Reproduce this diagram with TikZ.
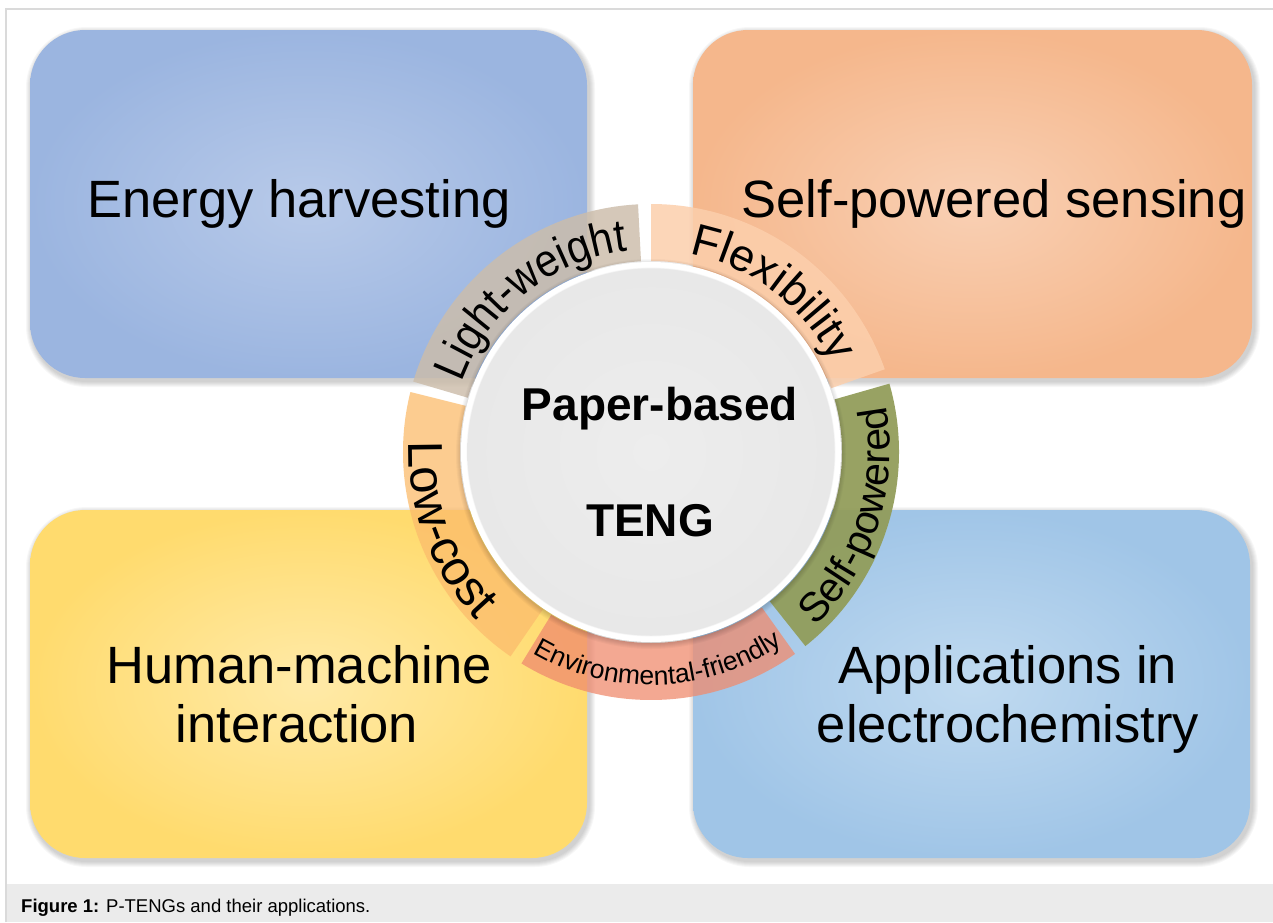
\documentclass[tikz,border=0pt]{standalone}
\usepackage{fontspec}
\setmainfont{Liberation Sans}
\newfontfamily\arcnarrow[FakeStretch=0.9]{Liberation Sans}
\usetikzlibrary{decorations.text}

\definecolor{framegray}{RGB}{218,218,218}
\definecolor{capgray}{RGB}{235,235,235}
\definecolor{ehIn}{RGB}{184,202,233}
\definecolor{ehOut}{RGB}{155,181,224}
\definecolor{spIn}{RGB}{249,208,180}
\definecolor{spOut}{RGB}{245,183,140}
\definecolor{hmIn}{RGB}{255,234,168}
\definecolor{hmOut}{RGB}{255,219,110}
\definecolor{apIn}{RGB}{192,218,240}
\definecolor{apOut}{RGB}{160,197,231}
\definecolor{cLW}{RGB}{204,189,170}
\definecolor{cFX}{RGB}{252,207,172}
\definecolor{cLC}{RGB}{252,188,108}
\definecolor{cEF}{RGB}{240,139,110}
\definecolor{cSP}{RGB}{145,156,88}
\definecolor{circIn}{RGB}{237,237,237}
\definecolor{circOut}{RGB}{232,232,232}

\newcommand\fLW{\arcnarrow\fontsize{46}{46}\selectfont}
\newcommand\fFX{\fontsize{45}{45}\selectfont}
\newcommand\fLC{\fontsize{49}{49}\selectfont}
\newcommand\fSP{\fontsize{41}{41}\selectfont}
\newcommand\fEF{\fontsize{26.5}{26.5}\selectfont}

% shadowed, shaded rounded box: x1,y1,x2,y2,inner,outer
\newcommand\mybox[6]{%
  \foreach \s in {1,...,6}{%
    \pgfmathsetmacro\rr{55+\s}%
    \fill[black,opacity=0.03,rounded corners=\rr pt]
      (#1-\s+2,#2+\s-3) rectangle (#3+\s+2,#4-\s-3);
  }%
  \shade[inner color=#5,outer color=#6,rounded corners=55pt]
    (#1,#2) rectangle (#3,#4);
}

% ring segment: start angle, end angle, colour, opacity
\newcommand\ringseg[4]{%
  \fill[#3,fill opacity=#4]
    ([shift={(#1:248)}]c) arc[start angle=#1,end angle=#2,radius=248]
    -- ([shift={(#2:191)}]c) arc[start angle=#2,end angle=#1,radius=191]
    -- cycle;
}

\begin{document}
\begin{tikzpicture}[x=1pt,y=1pt,
  boxlabel/.style={anchor=base,inner sep=0pt,font=\fontsize{52.5}{58}\selectfont},
  centerlabel/.style={anchor=base,inner sep=0pt,font=\bfseries\fontsize{46}{46}\selectfont}]
\useasboundingbox (0,0) rectangle (1273,-922);
\fill[white] (0,0) rectangle (1273,-922);

% frame and caption band
\fill[capgray] (6,-884) rectangle (1273,-922);
\draw[framegray,line width=1.2pt] (6,-922) -- (6,-9) -- (1273,-9);
\node[anchor=base west,inner sep=0pt,font=\fontsize{18.5}{20}\selectfont] (cap) at (21,-912)
  {\textbf{Figure 1:} P-TENGs and their applications.};

% four boxes
\mybox{30}{-30}{587}{-378}{ehIn}{ehOut}
\mybox{693}{-30}{1252}{-378}{spIn}{spOut}
\mybox{30}{-510}{587}{-858}{hmIn}{hmOut}
\mybox{693}{-510}{1250}{-858}{apIn}{apOut}

\coordinate (c) at (651,-452);

% ring segments
\ringseg{19.5}{90}{cFX}{0.85}
\ringseg{93}{163.5}{cLW}{0.82}
\ringseg{166}{235.5}{cLC}{0.75}
\ringseg{238.5}{305.5}{cEF}{0.75}
\ringseg{308.5}{376}{cSP}{0.93}

% central circle
\foreach \s in {1,...,6}{%
  \fill[black,opacity=0.028] ([yshift=-2pt]c) circle[radius=189+\s];
}
\fill[white] (c) circle[radius=190];
\foreach \s in {1,...,3}{%
  \fill[black,opacity=0.02] (c) circle[radius=185-\s*0.4];
}
\shade[inner color=circIn,outer color=circOut] (c) circle[radius=183.5];

% ring labels
\path[decorate,decoration={text along path,text align=center,
  text={|\fLW|Light-weight}}]
  ([shift={(163.5:202)}]c) arc[start angle=163.5,end angle=93,radius=202];
\path[decorate,decoration={text along path,text align=fit to path,
  text={|\fFX|Flexibility}}]
  ([shift={(79:202)}]c) arc[start angle=79,end angle=26,radius=202];
\path[decorate,decoration={text along path,text align=center,
  text={|\fLC|Low-cost}}]
  ([shift={(166:242)}]c) arc[start angle=166,end angle=235.5,radius=242];
\path[decorate,decoration={text along path,text align=center,
  text={|\fEF|Environmental-friendly}}]
  ([shift={(238.5:233)}]c) arc[start angle=238.5,end angle=305.5,radius=233];
\path[decorate,decoration={text along path,text align=center,
  text={|\fSP|Self-powered}}]
  ([shift={(308.5:239)}]c) arc[start angle=308.5,end angle=376,radius=239];

% centre text
\node[centerlabel] (pb) at (660,-420) {Paper-based};
\node[centerlabel] (teng) at (650,-536) {TENG};

% box labels
\node[boxlabel] (eh) at (299,-217) {Energy harvesting};
\node[boxlabel] (sps) at (994,-217) {Self-powered sensing};
\node[boxlabel] (hm1) at (299,-683) {Human-machine};
\node[boxlabel] (hm2) at (297,-742) {interaction};
\node[boxlabel] (ap1) at (1008,-683) {Applications in};
\node[boxlabel] (ap2) at (1008,-742) {electrochemistry};
\end{tikzpicture}
\end{document}
